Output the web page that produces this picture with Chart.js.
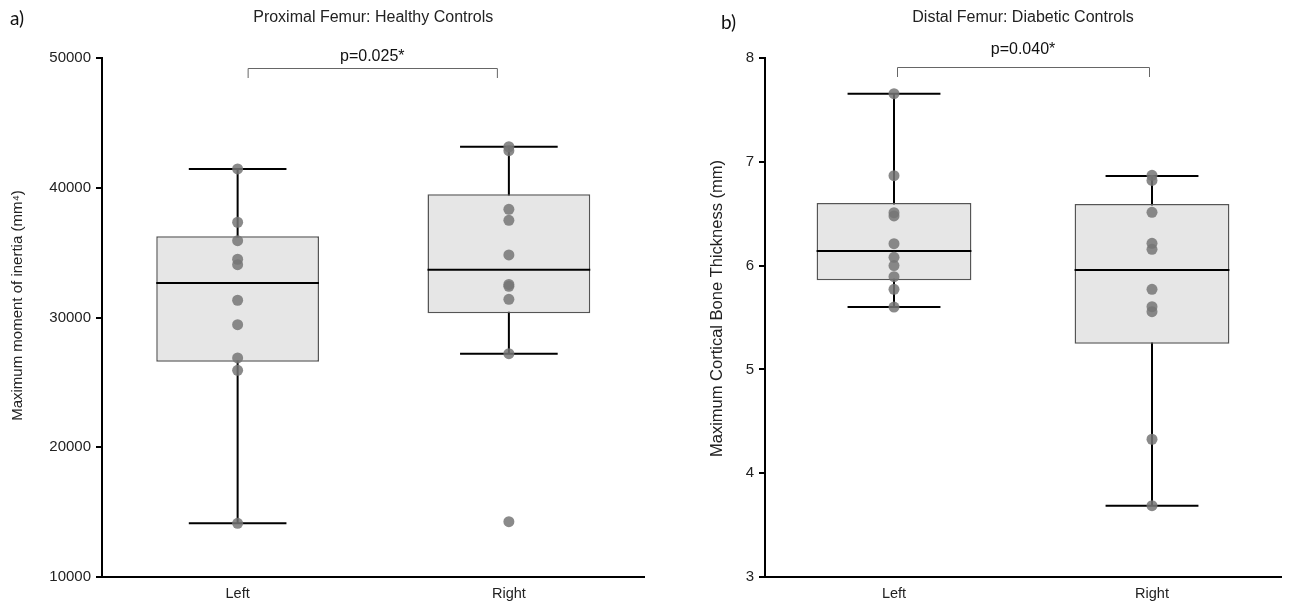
<!DOCTYPE html>
<html><head><meta charset="utf-8">
<script src="https://cdn.jsdelivr.net/npm/chart.js@4.4.1/dist/chart.umd.min.js"></script>
<style>
html,body{margin:0;padding:0;background:#fff;}
#wrap{position:relative;width:1290px;height:608px;overflow:hidden;background:#fff;}
.pane{position:absolute;top:0;height:608px;}
#paneA{left:0;width:650px;}
#paneB{left:650px;width:640px;}
.tag{position:absolute;font-family:Lato,'Open Sans',sans-serif;font-size:19px;color:#111;line-height:1;}
</style></head><body>
<div id="wrap">
<div class="pane" id="paneA"><canvas id="cA" width="650" height="608"></canvas></div>
<div class="pane" id="paneB"><canvas id="cB" width="640" height="608"></canvas></div>
<div class="tag" style="left:10px;top:8px">a)</div>
<div class="tag" style="left:721px;top:12px">b)</div>
</div>
<script>
// ---------- DATA ----------
const categories = ['Left', 'Right'];

// a) Proximal Femur: Healthy Controls
const proxLeftPoints  = [41450, 37340, 35920, 34490, 34070, 31330, 29450, 26880, 25930, 14140];
const proxRightPoints = [43160, 42860, 38340, 37490, 34820, 32550, 32400, 31400, 27210, 14260];
const proxMin    = [14140, 27210];
const proxQ1     = [26595, 30320];
const proxMedian = [32660, 33685];
const proxQ3     = [36260, 39495];
const proxMax    = [41450, 43160];
const proxYTicks = [10000, 20000, 30000, 40000, 50000];
const proxTitle  = 'Proximal Femur: Healthy Controls';
const proxYLabel = 'Maximum moment of inertia (mm\u2074)';
const proxP      = 'p=0.025*';

// b) Distal Femur: Diabetic Controls
const distLeftPoints  = [7.656, 6.866, 6.51, 6.478, 6.211, 6.08, 6.0, 5.893, 5.771, 5.601];
const distRightPoints = [6.87, 6.82, 6.513, 6.215, 6.157, 5.772, 5.604, 5.556, 4.327, 3.687];
const distMin    = [5.601, 3.687];
const distQ1     = [5.858, 5.248];
const distMedian = [6.141, 5.958];
const distQ3     = [6.603, 6.593];
const distMax    = [7.656, 6.863];
const distYTicks = [3, 4, 5, 6, 7, 8];
const distTitle  = 'Distal Femur: Diabetic Controls';
const distYLabel = 'Maximum Cortical Bone Thickness (mm)';
const distP      = 'p=0.040*';

// ---------- RENDERING ----------
const FONT = "'Liberation Sans', Arial, sans-serif";
Chart.defaults.font.family = FONT;
Chart.defaults.color = '#222';

const boxPlugin = {
  id: 'boxwhisk',
  beforeDatasetsDraw(chart, args, o) {
    const x = chart.scales.x, y = chart.scales.y, ctx = chart.ctx;
    const cw = x.getPixelForValue(1) - x.getPixelForValue(0);
    ctx.save();
    ctx.strokeStyle = '#000';
    ctx.lineWidth = 2;
    o.min.forEach((mn, i) => {
      const cx = x.getPixelForValue(i);
      const yLo = y.getPixelForValue(mn), yHi = y.getPixelForValue(o.max[i]);
      const hw = cw * o.capFrac / 2;
      ctx.beginPath();
      ctx.moveTo(cx, yLo); ctx.lineTo(cx, yHi);
      ctx.moveTo(cx - hw, yLo); ctx.lineTo(cx + hw, yLo);
      ctx.moveTo(cx - hw, yHi); ctx.lineTo(cx + hw, yHi);
      ctx.stroke();
    });
    ctx.restore();
  },
  afterDatasetDraw(chart, args, o) {
    if (args.meta.type !== 'bar') return;
    const y = chart.scales.y, ctx = chart.ctx;
    ctx.save();
    ctx.strokeStyle = '#000';
    ctx.lineWidth = 2;
    args.meta.data.forEach((bar, i) => {
      const p = bar.getProps(['x', 'width'], true);
      const yy = y.getPixelForValue(o.median[i]);
      ctx.beginPath();
      ctx.moveTo(p.x - p.width / 2, yy);
      ctx.lineTo(p.x + p.width / 2, yy);
      ctx.stroke();
    });
    ctx.restore();
  },
  afterDraw(chart, args, o) {
    const x = chart.scales.x, ctx = chart.ctx, ca = chart.chartArea, top = ca.top;
    const x0 = x.getPixelForValue(0) + o.insetL, x1 = x.getPixelForValue(1) - o.insetR;
    const by = top + o.bracketOff;
    ctx.save();
    ctx.strokeStyle = '#666';
    ctx.lineWidth = 1;
    ctx.beginPath();
    ctx.moveTo(x0 + 0.5, by + 10); ctx.lineTo(x0 + 0.5, by + 0.5);
    ctx.lineTo(x1 + 0.5, by + 0.5); ctx.lineTo(x1 + 0.5, by + 10);
    ctx.stroke();
    ctx.fillStyle = '#111';
    ctx.font = "16px " + FONT;
    ctx.textAlign = 'center';
    ctx.textBaseline = 'middle';
    ctx.fillText(o.pText, (x0 + x1) / 2, top + o.textOff);
    // y-axis title
    ctx.fillStyle = '#222';
    ctx.font = o.yTitleSize + "px " + FONT;
    ctx.translate(o.yTitleX, (ca.top + ca.bottom) / 2 + o.yTitleShift);
    ctx.rotate(-Math.PI / 2);
    ctx.fillText(o.yLabel, 0, 0);
    ctx.restore();
  }
};

function makeChart(id, cfg) {
  const ptsData = [];
  cfg.points.forEach((arr, i) => arr.forEach(v => ptsData.push({ x: categories[i], y: v })));
  return new Chart(document.getElementById(id), {
    type: 'bar',
    data: {
      labels: categories,
      datasets: [
        {
          type: 'bar',
          data: categories.map((c, i) => [cfg.q1[i], cfg.q3[i]]),
          backgroundColor: '#e6e6e6',
          borderColor: '#555',
          borderWidth: 1.5,
          borderSkipped: false,
          barPercentage: 0.6,
          categoryPercentage: 1.0,
          order: 2
        },
        {
          type: 'scatter',
          data: ptsData,
          pointRadius: 5.5,
          pointBackgroundColor: 'rgba(118,118,118,0.85)',
          pointBorderWidth: 0,
          pointHoverRadius: 5.5,
          order: 1
        }
      ]
    },
    options: {
      responsive: false,
      animation: false,
      events: [],
      layout: { padding: { left: 0, right: cfg.padRight, top: 0, bottom: 0 } },
      plugins: {
        legend: { display: false },
        tooltip: { enabled: false },
        title: {
          display: true, text: cfg.title, fullSize: false,
          font: { size: 16, weight: 'normal' }, color: '#222',
          padding: { top: 8, bottom: 30.8 }
        },
        boxwhisk: {
          min: cfg.min, max: cfg.max, median: cfg.median, capFrac: 0.36,
          pText: cfg.pText, insetL: cfg.insetL, insetR: cfg.insetR,
          bracketOff: cfg.bracketOff, textOff: cfg.textOff,
          yLabel: cfg.yLabel, yTitleX: cfg.yTitleX, yTitleShift: cfg.yTitleShift, yTitleSize: cfg.yTitleSize
        }
      },
      scales: {
        x: {
          type: 'category', offset: true,
          grid: { display: false, drawTicks: false },
          border: { display: true, color: '#000', width: 2 },
          ticks: { font: { size: 14.5 }, color: '#222', padding: 8 },
          afterFit(s) { s.height = 31; }
        },
        y: {
          type: 'linear', min: cfg.yTicks[0], max: cfg.yTicks[cfg.yTicks.length - 1],
          afterBuildTicks(s) { s.ticks = cfg.yTicks.map(v => ({ value: v })); },
          grid: { display: true, drawOnChartArea: false, drawTicks: true, tickLength: 6, color: '#000', lineWidth: 2 },
          border: { display: true, color: '#000', width: 2 },
          ticks: { font: { size: 15 }, color: '#222', padding: 5, callback: v => String(v) },
          title: { display: false },
          afterFit(s) { s.width = cfg.yWidth; }
        }
      }
    },
    plugins: [boxPlugin]
  });
}

makeChart('cA', {
  title: proxTitle, yLabel: proxYLabel, pText: proxP, yTicks: proxYTicks,
  points: [proxLeftPoints, proxRightPoints],
  min: proxMin, q1: proxQ1, median: proxMedian, q3: proxQ3, max: proxMax,
  padRight: 5, yWidth: 102, yTitleX: 18, yTitleShift: -12, yTitleSize: 15,
  insetL: 10, insetR: 12, bracketOff: 10, textOff: -1
});
makeChart('cB', {
  title: distTitle, yLabel: distYLabel, pText: distP, yTicks: distYTicks,
  points: [distLeftPoints, distRightPoints],
  min: distMin, q1: distQ1, median: distMedian, q3: distQ3, max: distMax,
  padRight: 9, yWidth: 115, yTitleX: 67, yTitleShift: -9, yTitleSize: 16.5,
  insetL: 3, insetR: 3, bracketOff: 9, textOff: -8
});
</script>
</body></html>
